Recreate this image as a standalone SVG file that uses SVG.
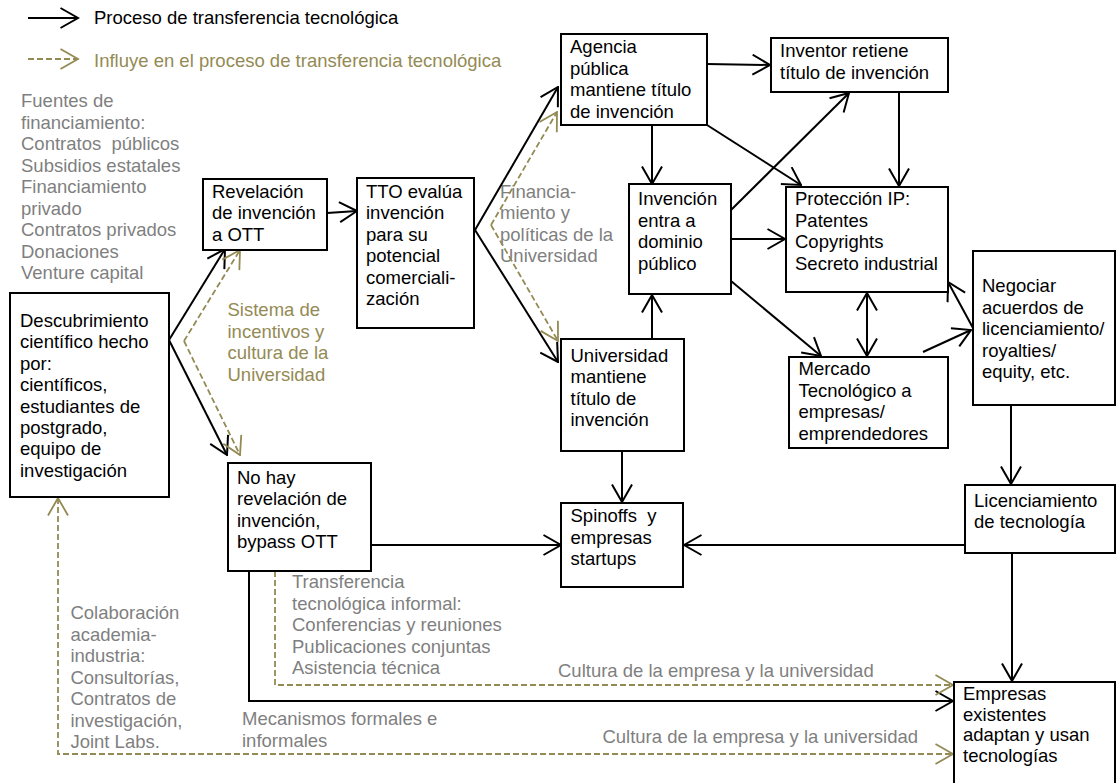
<svg xmlns="http://www.w3.org/2000/svg" width="1117" height="783" viewBox="0 0 1117 783">
<style>
text{font-family:"Liberation Sans",Arial,sans-serif;font-size:18.5px;fill:#000}
.g{fill:#7f7f7f}
.o{fill:#948a54}
.box{fill:#fff;stroke:#000;stroke-width:2}
.ln{fill:none;stroke:#000;stroke-width:2;marker-end:url(#ah)}
.dl{fill:none;stroke:#948a54;stroke-width:1.8;stroke-dasharray:6 3;marker-end:url(#ao)}
</style>
<defs>
<marker id="ah" viewBox="0 0 20 22" refX="18.5" refY="11" markerWidth="20" markerHeight="22" markerUnits="userSpaceOnUse" orient="auto-start-reverse">
<path d="M1,1 L18.5,11 L1,21" fill="none" stroke="#000" stroke-width="2"/>
</marker>
<marker id="ao" viewBox="0 0 20 22" refX="18.5" refY="11" markerWidth="20" markerHeight="22" markerUnits="userSpaceOnUse" orient="auto-start-reverse">
<path d="M1,1 L18.5,11 L1,21" fill="none" stroke="#948a54" stroke-width="1.8"/>
</marker>
</defs>

<g id="legend">
<line class="ln" x1="28" y1="18" x2="78" y2="18"/>
<text x="94" y="24">Proceso de transferencia tecnológica</text>
<line class="dl" x1="28" y1="59" x2="78" y2="59"/>
<text class="o" x="94" y="67">Influye en el proceso de transferencia tecnológica</text>
</g>

<g id="labels">
<text class="g" x="21" y="107">Fuentes de</text>
<text class="g" x="21" y="128.5">financiamiento:</text>
<text class="g" x="21" y="150" xml:space="preserve">Contratos  públicos</text>
<text class="g" x="21" y="171.5">Subsidios estatales</text>
<text class="g" x="21" y="193">Financiamiento</text>
<text class="g" x="21" y="214.5">privado</text>
<text class="g" x="21" y="236">Contratos privados</text>
<text class="g" x="21" y="257.5">Donaciones</text>
<text class="g" x="21" y="279">Venture capital</text>

<text class="o" x="227.5" y="316">Sistema de</text>
<text class="o" x="227.5" y="337.5">incentivos y</text>
<text class="o" x="227.5" y="359">cultura de la</text>
<text class="o" x="227.5" y="380.5">Universidad</text>

<text class="g" x="500" y="197.5">Financia-</text>
<text class="g" x="500" y="219">miento y</text>
<text class="g" x="500" y="240.5">políticas de la</text>
<text class="g" x="500" y="262">Universidad</text>

<text class="g" x="292" y="588.3">Transferencia</text>
<text class="g" x="292" y="609.7">tecnológica informal:</text>
<text class="g" x="292" y="631">Conferencias y reuniones</text>
<text class="g" x="292" y="652.5">Publicaciones conjuntas</text>
<text class="g" x="292" y="674">Asistencia técnica</text>

<text class="g" x="70.4" y="619.3">Colaboración</text>
<text class="g" x="70.4" y="640.7">academia-</text>
<text class="g" x="70.4" y="662">industria:</text>
<text class="g" x="70.4" y="683.5">Consultorías,</text>
<text class="g" x="70.4" y="705">Contratos de</text>
<text class="g" x="70.4" y="726.5">investigación,</text>
<text class="g" x="70.4" y="748">Joint Labs.</text>

<text class="g" x="242" y="725">Mecanismos formales e</text>
<text class="g" x="242" y="746.5">informales</text>

<text class="g" x="558" y="676.7">Cultura de la empresa y la universidad</text>
<text class="g" x="602.4" y="743.3">Cultura de la empresa y la universidad</text>
</g>

<g id="connectors">
<line class="ln" x1="169" y1="340" x2="225" y2="249"/>
<line class="ln" x1="169" y1="340" x2="227" y2="455"/>
<line class="ln" x1="327" y1="213" x2="357" y2="211"/>
<line class="ln" x1="475" y1="230" x2="558" y2="87"/>
<line class="ln" x1="475" y1="230" x2="558" y2="362"/>
<line class="ln" x1="707" y1="64" x2="770" y2="65"/>
<line class="ln" x1="652" y1="125" x2="652" y2="184"/>
<line class="ln" x1="707" y1="125" x2="801" y2="185"/>
<line class="ln" x1="731" y1="210" x2="849" y2="93"/>
<line class="ln" x1="899" y1="92" x2="899" y2="186"/>
<line class="ln" x1="731" y1="239" x2="785" y2="239"/>
<line class="ln" x1="731" y1="281" x2="821" y2="356"/>
<line class="ln" x1="867" y1="293" x2="867" y2="356" style="marker-start:url(#ah)"/>
<line class="ln" x1="923" y1="352" x2="971" y2="330"/>
<line class="ln" x1="973" y1="328" x2="948" y2="282"/>
<line class="ln" x1="652" y1="339" x2="652" y2="295"/>
<line class="ln" x1="622" y1="451" x2="622" y2="502"/>
<line class="ln" x1="1011" y1="405" x2="1011" y2="484"/>
<line class="ln" x1="965" y1="545" x2="684" y2="545"/>
<line class="ln" x1="1012" y1="553" x2="1012" y2="681"/>
<line class="ln" x1="371" y1="545" x2="561" y2="545"/>
<polyline class="ln" points="249,567 249,701 953,701"/>

<line class="dl" x1="184" y1="341" x2="240" y2="250"/>
<line class="dl" x1="184" y1="341" x2="240" y2="455"/>
<line class="dl" x1="491" y1="225" x2="557" y2="112"/>
<line class="dl" x1="491" y1="225" x2="558" y2="341"/>
<polyline class="dl" points="275,571 275,685 953,685"/>
<polyline class="dl" points="58,498 58,754 953,754" style="marker-start:url(#ao)"/>
</g>

<g id="descubrimiento">
<rect class="box" x="10" y="293" width="159" height="204"/>
<text x="20" y="327">Descubrimiento</text>
<text x="20" y="348.4">científico hecho</text>
<text x="20" y="369.8">por:</text>
<text x="20" y="391.2">científicos,</text>
<text x="20" y="412.6">estudiantes de</text>
<text x="20" y="434">postgrado,</text>
<text x="20" y="455.4">equipo de</text>
<text x="20" y="476.8">investigación</text>
</g>

<g id="revelacion">
<rect class="box" x="203" y="179" width="124" height="71"/>
<text x="212" y="198">Revelación</text>
<text x="212" y="219.4">de invención</text>
<text x="212" y="240.8">a OTT</text>
</g>

<g id="tto">
<rect class="box" x="357" y="178" width="117" height="150"/>
<text x="366" y="197.5">TTO evalúa</text>
<text x="366" y="219">invención</text>
<text x="366" y="240.5">para su</text>
<text x="366" y="262">potencial</text>
<text x="366" y="283.5">comerciali-</text>
<text x="366" y="305">zación</text>
</g>

<g id="agencia">
<rect class="box" x="561" y="34" width="146" height="91"/>
<text x="570" y="53">Agencia</text>
<text x="570" y="74.5">pública</text>
<text x="570" y="96">mantiene título</text>
<text x="570" y="117.5">de invención</text>
</g>

<g id="inventor">
<rect class="box" x="771" y="38" width="177" height="54"/>
<text x="780" y="57">Inventor retiene</text>
<text x="780" y="78.5">título de invención</text>
</g>

<g id="dominio">
<rect class="box" x="629" y="184" width="102" height="110"/>
<text x="638" y="205">Invención</text>
<text x="638" y="226.5">entra a</text>
<text x="638" y="248">dominio</text>
<text x="638" y="269.5">público</text>
</g>

<g id="proteccion">
<rect class="box" x="786" y="187" width="162" height="105"/>
<text x="795" y="205">Protección IP:</text>
<text x="795" y="226.5">Patentes</text>
<text x="795" y="248">Copyrights</text>
<text x="795" y="269.5">Secreto industrial</text>
</g>

<g id="negociar">
<rect class="box" x="973" y="251" width="142" height="154"/>
<text x="982" y="292">Negociar</text>
<text x="982" y="313.5">acuerdos de</text>
<text x="982" y="335">licenciamiento/</text>
<text x="982" y="356.5">royalties/</text>
<text x="982" y="378">equity, etc.</text>
</g>

<g id="universidad">
<rect class="box" x="561" y="339" width="123" height="112"/>
<text x="570.5" y="361.7">Universidad</text>
<text x="570.5" y="383">mantiene</text>
<text x="570.5" y="404.5">título de</text>
<text x="570.5" y="426">invención</text>
</g>

<g id="mercado">
<rect class="box" x="789" y="357" width="159" height="91"/>
<text x="798.5" y="375">Mercado</text>
<text x="798.5" y="396.5">Tecnológico a</text>
<text x="798.5" y="418">empresas/</text>
<text x="798.5" y="439.5">emprendedores</text>
</g>

<g id="licenciamiento">
<rect class="box" x="965" y="485" width="150" height="68"/>
<text x="974" y="506.7">Licenciamiento</text>
<text x="974" y="528">de tecnología</text>
</g>

<g id="spinoffs">
<rect class="box" x="561" y="503" width="122" height="84"/>
<text x="570.5" y="522" xml:space="preserve">Spinoffs  y</text>
<text x="570.5" y="543.5">empresas</text>
<text x="570.5" y="565">startups</text>
</g>

<g id="nohay">
<rect class="box" x="228" y="463" width="143" height="108"/>
<text x="237" y="484">No hay</text>
<text x="237" y="505.4">revelación de</text>
<text x="237" y="526.8">invención,</text>
<text x="237" y="548.2">bypass OTT</text>
</g>

<g id="empresas">
<rect class="box" x="954" y="682" width="161" height="110"/>
<text x="963" y="700">Empresas</text>
<text x="963" y="720.7">existentes</text>
<text x="963" y="741.4">adaptan y usan</text>
<text x="963" y="762">tecnologías</text>
</g>
</svg>
